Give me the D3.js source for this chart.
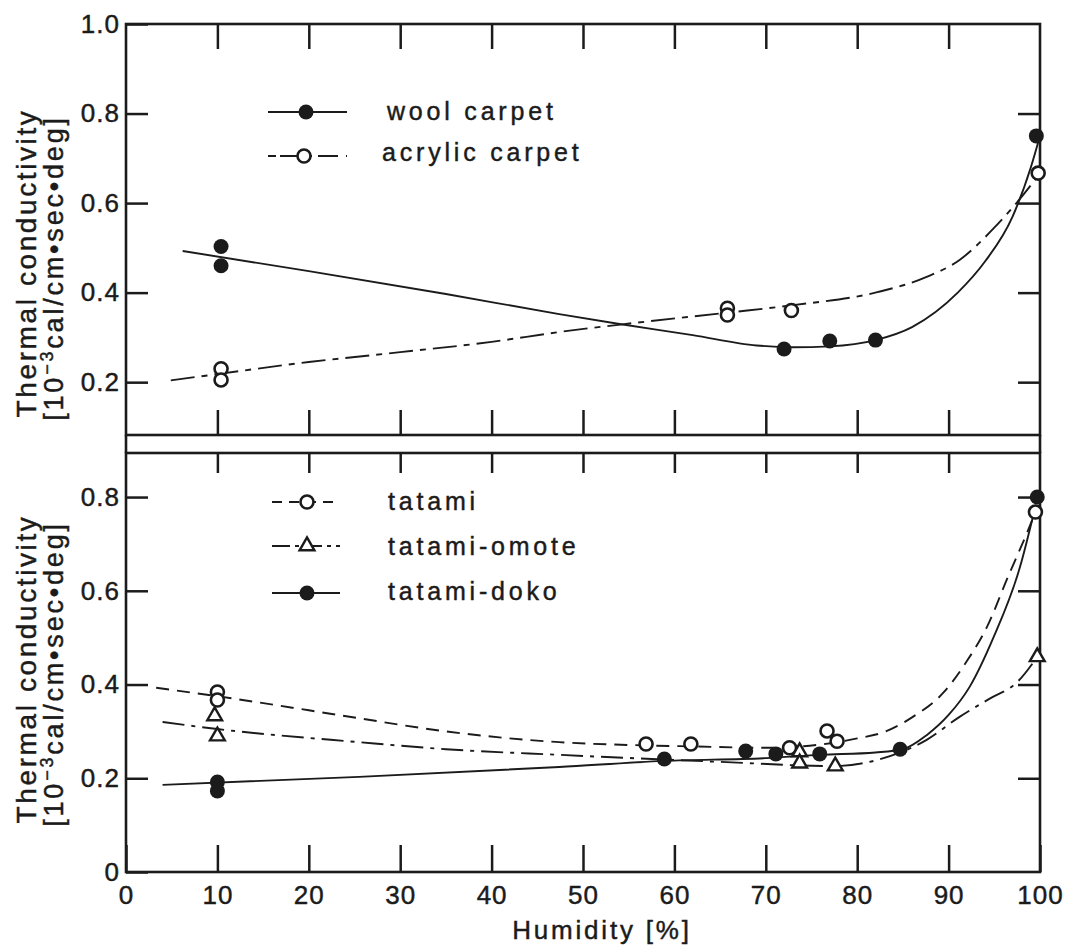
<!DOCTYPE html>
<html>
<head>
<meta charset="utf-8">
<script src="https://cdn.jsdelivr.net/npm/d3@7"></script>
<style>
  body { margin: 0; background: #fff; }
  svg text { font-family: "Liberation Sans", Arial, sans-serif; fill: #1b1b1b; stroke: #1b1b1b; stroke-width: 0.45px; }
</style>
</head>
<body>
<div id="chart"></div>
<script>
// humidity ticks (shared x axis)
const humidityTicks = [0, 10, 20, 30, 40, 50, 60, 70, 80, 90, 100];
const topTicks = [0.2, 0.4, 0.6, 0.8, 1.0];
const bottomTicks = [0, 0.2, 0.4, 0.6, 0.8];

// top panel - measured points
const woolX = [10.4, 10.4, 72, 77, 82, 99.6];
const woolY = [0.503, 0.46, 0.274, 0.292, 0.294, 0.75];
const acrylicX = [10.4, 10.4, 65.8, 65.8, 72.8, 99.8];
const acrylicY = [0.23, 0.205, 0.365, 0.35, 0.36, 0.667];

// top panel - hand drawn curves
const woolCurveX = [6.2, 20, 35, 47.4, 54, 62, 69, 73, 77, 82, 86, 91, 94, 97, 99, 100];
const woolCurveY = [0.493, 0.448, 0.397, 0.352, 0.33, 0.305, 0.282, 0.278, 0.28, 0.294, 0.323, 0.40, 0.47, 0.57, 0.68, 0.75];
const acrylicCurveX = [4.9, 10, 20, 30, 40, 47.4, 55.5, 65.7, 73, 82.2, 87.6, 91.2, 95, 97, 99, 100];
const acrylicCurveY = [0.204, 0.218, 0.245, 0.267, 0.29, 0.312, 0.332, 0.355, 0.372, 0.401, 0.435, 0.473, 0.545, 0.59, 0.64, 0.667];

// bottom panel - measured points
const tatamiX = [10, 10, 56.9, 61.8, 72.6, 76.7, 77.8, 99.5];
const tatamiY = [0.384, 0.367, 0.273, 0.273, 0.265, 0.301, 0.279, 0.768];
const omoteX = [9.7, 10, 73.7, 73.7, 77.6, 99.7];
const omoteY = [0.333, 0.29, 0.256, 0.232, 0.226, 0.459];
const dokoX = [10, 10, 58.9, 67.8, 71.1, 75.9, 84.7, 99.7];
const dokoY = [0.192, 0.173, 0.241, 0.258, 0.252, 0.252, 0.262, 0.80];

// bottom panel - hand drawn curves
const tatamiCurveX = [3.3, 10, 20, 25.5, 35, 47.4, 57, 62, 70, 76, 80, 83, 86, 89.4, 92, 94.2, 96.5, 98.5, 99.5];
const tatamiCurveY = [0.393, 0.375, 0.345, 0.328, 0.30, 0.277, 0.27, 0.268, 0.265, 0.272, 0.285, 0.299, 0.33, 0.382, 0.45, 0.523, 0.63, 0.72, 0.768];
const omoteCurveX = [4, 10, 25.5, 35, 47.4, 65, 77.4, 82.2, 87.6, 91.2, 94.5, 97.5, 99.7];
const omoteCurveY = [0.32, 0.305, 0.277, 0.262, 0.25, 0.235, 0.226, 0.239, 0.282, 0.331, 0.37, 0.405, 0.459];
const dokoCurveX = [4, 25.5, 47.4, 59, 70, 76, 82, 85, 87.6, 90, 92.3, 94.9, 97.8, 99.5];
const dokoCurveY = [0.186, 0.203, 0.224, 0.237, 0.243, 0.25, 0.255, 0.262, 0.292, 0.335, 0.395, 0.5, 0.65, 0.78];

const ink = "#1b1b1b";
const width = 1069, height = 950;

let svg = d3.select("#chart").append("svg")
    .attr("width", width)
    .attr("height", height);

// scales
let x = d3.scaleLinear().domain([0, 100]).range([126, 1040]);
let yTop = d3.scaleLinear().domain([0.082, 1.0]).range([435, 24]);
let yBot = d3.scaleLinear().domain([0, 0.894]).range([872, 453]);

let fmt = d3.format(".1f");

function styleAxis(g) {
    g.select(".domain").remove();
    g.selectAll(".tick line").attr("stroke", ink).attr("stroke-width", 2.5);
    g.selectAll(".tick text").attr("fill", ink).style("font-size", "26px").style("letter-spacing", "1px");
}

function panelAxes(y, ticks, yFormat, topLen, botLen, showX) {
    svg.append("g")
        .attr("transform", "translate(" + x.range()[0] + ",0)")
        .call(d3.axisLeft(y).tickValues(ticks).tickFormat(yFormat)
            .tickSizeInner(-22).tickSizeOuter(0).tickPadding(6))
        .call(styleAxis);
    svg.append("g")
        .attr("transform", "translate(" + x.range()[1] + ",0)")
        .call(d3.axisRight(y).tickValues(ticks.filter(d => d > 0 && d < 1)).tickFormat("")
            .tickSizeInner(-22).tickSizeOuter(0))
        .call(styleAxis);
    svg.append("g")
        .attr("transform", "translate(0," + y.range()[1] + ")")
        .call(d3.axisTop(x).tickValues(humidityTicks.slice(1, -1)).tickFormat("")
            .tickSizeInner(-topLen).tickSizeOuter(0))
        .call(styleAxis);
    svg.append("g")
        .attr("transform", "translate(0," + y.range()[0] + ")")
        .call(d3.axisBottom(x).tickValues(showX ? humidityTicks : humidityTicks.slice(1, -1))
            .tickFormat(showX ? d3.format("d") : "")
            .tickSizeInner(-botLen).tickSizeOuter(0).tickPadding(14))
        .call(styleAxis);

    // frame
    svg.append("rect")
        .attr("x", x.range()[0]).attr("y", y.range()[1])
        .attr("width", x.range()[1] - x.range()[0])
        .attr("height", y.range()[0] - y.range()[1])
        .attr("fill", "none").attr("stroke", ink).attr("stroke-width", 2.6);
}

panelAxes(yTop, topTicks, fmt, 25, 25, false);
panelAxes(yBot, bottomTicks, d => d === 0 ? "0" : fmt(d), 20, 27, true);

// side lines joining the two panels
[x.range()[0], x.range()[1]].forEach(px => {
    svg.append("line")
        .attr("x1", px).attr("x2", px)
        .attr("y1", yTop.range()[0]).attr("y2", yBot.range()[1])
        .attr("stroke", ink).attr("stroke-width", 2.6);
});

// curves
function drawCurve(y, cx, cy, dash) {
    let line = d3.line()
        .x(d => x(d[0]))
        .y(d => y(d[1]))
        .curve(d3.curveMonotoneX);
    svg.append("path")
        .datum(d3.zip(cx, cy))
        .attr("d", line)
        .attr("fill", "none")
        .attr("stroke", ink)
        .attr("stroke-width", 1.9)
        .attr("stroke-dasharray", dash);
}

drawCurve(yTop, woolCurveX, woolCurveY, null);
drawCurve(yTop, acrylicCurveX, acrylicCurveY, "24,7,6,7");
drawCurve(yBot, tatamiCurveX, tatamiCurveY, "13,8");
drawCurve(yBot, omoteCurveX, omoteCurveY, "22,7,4,7");
drawCurve(yBot, dokoCurveX, dokoCurveY, null);

// markers
function marker(g, kind) {
    if (kind === "filled") {
        g.append("circle").attr("r", 7.5).attr("fill", ink);
    } else if (kind === "open") {
        g.append("circle").attr("r", 6.5).attr("fill", "#fff")
            .attr("stroke", ink).attr("stroke-width", 2.6);
    } else {
        g.append("path").attr("d", d3.symbol(d3.symbolTriangle).size(95))
            .attr("fill", "#fff").attr("stroke", ink).attr("stroke-width", 2.4);
    }
}

function drawPoints(y, px, py, kind) {
    d3.zip(px, py).forEach(d => {
        let g = svg.append("g").attr("transform", "translate(" + x(d[0]) + "," + y(d[1]) + ")");
        marker(g, kind);
    });
}

drawPoints(yTop, acrylicX, acrylicY, "open");
drawPoints(yTop, woolX, woolY, "filled");
drawPoints(yBot, tatamiX, tatamiY, "open");
drawPoints(yBot, omoteX, omoteY, "triangle");
drawPoints(yBot, dokoX, dokoY, "filled");

// legends
const topLegend = ["wool carpet", "acrylic carpet"];
const bottomLegend = ["tatami", "tatami-omote", "tatami-doko"];

function legendRow(cy, ty, tx, label, kind, dash, x0, x1, mx) {
    svg.append("line")
        .attr("x1", x0).attr("x2", x1).attr("y1", cy).attr("y2", cy)
        .attr("stroke", ink).attr("stroke-width", 2.2)
        .attr("stroke-dasharray", dash);
    marker(svg.append("g").attr("transform", "translate(" + mx + "," + cy + ")"), kind);
    svg.append("text")
        .attr("x", tx).attr("y", ty)
        .style("font-size", "25px")
        .style("letter-spacing", "3.8px")
        .text(label);
}

legendRow(112, 120, 387, topLegend[0], "filled", null, 268, 347, 306);
legendRow(156, 161, 382, topLegend[1], "open", "8,4,22,6,4,6,20", 268, 347, 304);
legendRow(502, 510, 388, bottomLegend[0], "open", "10,7", 272, 340, 307);
legendRow(546, 555, 388, bottomLegend[1], "triangle", "18,5,4,5", 272, 340, 307);
legendRow(593, 600, 388, bottomLegend[2], "filled", null, 272, 340, 307);

// y axis titles
function yTitle(cy) {
    svg.append("text")
        .attr("transform", "translate(36," + cy + ") rotate(-90)")
        .attr("text-anchor", "middle")
        .style("font-size", "28px")
        .style("letter-spacing", "2.6px")
        .text("Thermal conductivity");
    let t2 = svg.append("text")
        .attr("transform", "translate(63," + (cy + 5) + ") rotate(-90)")
        .attr("text-anchor", "middle")
        .style("font-size", "27px")
        .style("letter-spacing", "2.8px");
    t2.append("tspan").text("[10");
    t2.append("tspan").attr("dy", -10).style("font-size", "18px").text("\u2212" + "3");
    t2.append("tspan").attr("dy", 10).text("cal/cm\u2022sec\u2022deg]");
}

yTitle(263);
yTitle(669);

// x axis title
svg.append("text")
    .attr("x", 602).attr("y", 939)
    .attr("text-anchor", "middle")
    .style("font-size", "26px")
    .style("letter-spacing", "2.8px")
    .text("Humidity [%]");
</script>
</body>
</html>
